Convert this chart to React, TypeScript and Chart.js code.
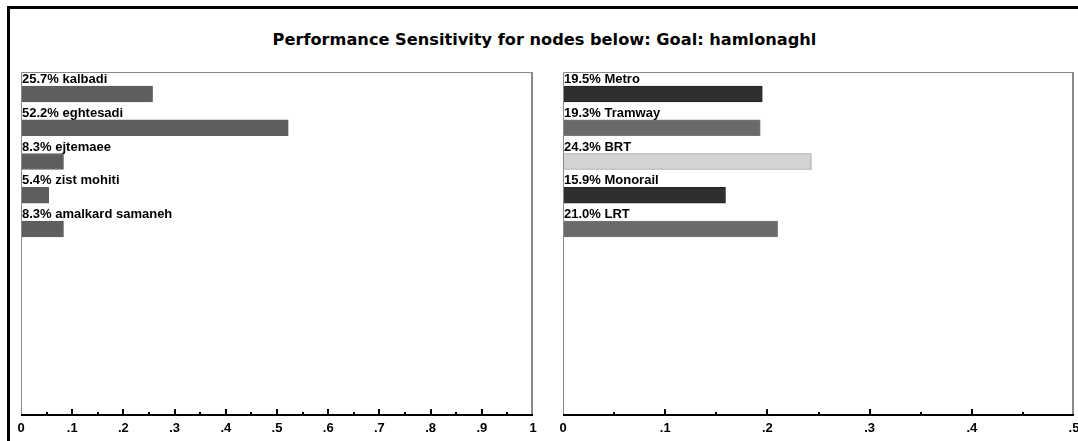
import React, { useEffect, useRef } from "react";
import { Chart, registerables } from "chart.js";
Chart.register(...registerables);

const TITLE = "Performance Sensitivity for nodes below: Goal: hamlonaghl";

const leftNames = ["kalbadi", "eghtesadi", "ejtemaee", "zist mohiti", "amalkard samaneh"];
const leftValues = [0.257, 0.522, 0.083, 0.054, 0.083];
const leftColors = ["#5e5e5e", "#5e5e5e", "#5e5e5e", "#5e5e5e", "#5e5e5e"];
const leftMax = 1;

const rightNames = ["Metro", "Tramway", "BRT", "Monorail", "LRT"];
const rightValues = [0.195, 0.193, 0.243, 0.159, 0.21];
const rightColors = ["#2f2f2f", "#6a6a6a", "#d4d4d4", "#2f2f2f", "#6a6a6a"];
const rightBorders = ["#222222", "#777777", "#9a9a9a", "#222222", "#777777"];
const rightMax = 0.5;

const FONT = '"Liberation Sans", Arial, sans-serif';

function fmt(v: number) {
  const r = Math.round(v * 10);
  if (r === 0) return "0";
  if (r === 10) return "1";
  return "." + r;
}

const decorPlugin = {
  id: "decor",
  afterDraw(chart: any) {
    const ctx = chart.ctx;
    const a = chart.chartArea;
    const xs = chart.scales.x;
    ctx.save();
    // panel border
    ctx.strokeStyle = "#8a8a8a";
    ctx.lineWidth = 1;
    ctx.beginPath();
    ctx.moveTo(a.left + 0.5, a.bottom);
    ctx.lineTo(a.left + 0.5, a.top + 0.5);
    ctx.lineTo(a.right - 0.5, a.top + 0.5);
    ctx.stroke();
    ctx.lineWidth = 2;
    ctx.beginPath();
    ctx.moveTo(a.right - 1, a.top);
    ctx.lineTo(a.right - 1, a.bottom);
    ctx.stroke();
    // axis line
    ctx.strokeStyle = "#000";
    ctx.lineWidth = 2;
    ctx.beginPath();
    ctx.moveTo(a.left, a.bottom - 1);
    ctx.lineTo(a.right, a.bottom - 1);
    ctx.stroke();
    // ticks
    const max = xs.max;
    const n = Math.round(max / 0.05);
    ctx.lineWidth = 2;
    for (let i = 1; i < n; i++) {
      const x = Math.round(xs.getPixelForValue(i * 0.05));
      const len = i % 2 === 0 ? 6 : 3;
      ctx.beginPath();
      ctx.moveTo(x, a.bottom - 1);
      ctx.lineTo(x, a.bottom - 1 - len);
      ctx.stroke();
    }
    // labels above bars
    const meta = chart.getDatasetMeta(0);
    const names = chart.options.plugins.decor.names;
    const vals = chart.data.datasets[0].data;
    ctx.fillStyle = "#000";
    ctx.font = "bold 13px " + FONT;
    ctx.textAlign = "left";
    ctx.textBaseline = "alphabetic";
    meta.data.forEach((el: any, i: number) => {
      const v = vals[i].x;
      const txt = (v * 100).toFixed(1) + "% " + names[i];
      ctx.fillText(txt, a.left + 1, el.y - 8 - 3);
    });
    ctx.restore();
  },
};

function Panel(props: {
  names: string[];
  values: number[];
  colors: string[];
  borders: string[];
  max: number;
  width: number;
  padLeft: number;
  padRight: number;
  left: number;
}) {
  const ref = useRef<HTMLCanvasElement | null>(null);
  useEffect(() => {
    if (!ref.current) return;
    const chart = new Chart(ref.current, {
      type: "bar",
      data: {
        datasets: [
          {
            data: props.values.map((v, i) => ({ x: v, y: i })),
            backgroundColor: props.colors,
            borderColor: props.borders,
            borderWidth: 1,
            barThickness: 16,
          } as any,
        ],
      },
      options: {
        indexAxis: "y",
        responsive: false,
        animation: false,
        events: [],
        layout: { padding: { left: props.padLeft, right: props.padRight, top: 72, bottom: 0 } },
        scales: {
          y: {
            type: "linear",
            display: false,
            reverse: true,
            offset: false,
            min: -0.652,
            max: 9.541,
          },
          x: {
            type: "linear",
            min: 0,
            max: props.max,
            offset: false,
            grid: { display: false, drawTicks: false, tickLength: 0 },
            border: { display: false },
            ticks: {
              stepSize: 0.1,
              autoSkip: false,
              maxRotation: 0,
              padding: 5,
              color: "#000",
              font: { family: FONT, size: 13, weight: "bold" },
              callback: (v: any) => fmt(Number(v)),
            },
            afterFit: (s: any) => {
              s.height = 25;
            },
          } as any,
        },
        plugins: {
          legend: { display: false },
          tooltip: { enabled: false },
          decor: { names: props.names },
        } as any,
      },
      plugins: [decorPlugin],
    });
    return () => chart.destroy();
  }, []);
  return (
    <canvas
      ref={ref}
      width={props.width}
      height={441}
      style={{ position: "absolute", left: props.left, top: 0, width: props.width, height: 441 }}
    />
  );
}

export default function App() {
  return (
    <div
      style={{
        position: "absolute",
        left: 0,
        top: 0,
        width: 1078,
        height: 441,
        overflow: "hidden",
        background: "#fff",
      }}
    >
      <div
        style={{
          position: "absolute",
          left: 7,
          top: 6,
          width: 1100,
          height: 460,
          borderTop: "3px solid #000",
          borderLeft: "3px solid #000",
        }}
      />
      <div
        style={{
          position: "absolute",
          left: 0,
          top: 30,
          width: 1089,
          textAlign: "center",
          fontFamily: '"DejaVu Sans", sans-serif',
          fontWeight: "bold",
          fontSize: 16.2,
          lineHeight: "20px",
          color: "#000",
          whiteSpace: "nowrap",
        }}
      >
        {TITLE}
      </div>
      <Panel
        names={leftNames}
        values={leftValues}
        colors={leftColors}
        borders={leftColors}
        max={leftMax}
        width={548}
        padLeft={21}
        padRight={15}
        left={0}
      />
      <Panel
        names={rightNames}
        values={rightValues}
        colors={rightColors}
        borders={rightBorders}
        max={rightMax}
        width={540}
        padLeft={15}
        padRight={14}
        left={548}
      />
    </div>
  );
}
